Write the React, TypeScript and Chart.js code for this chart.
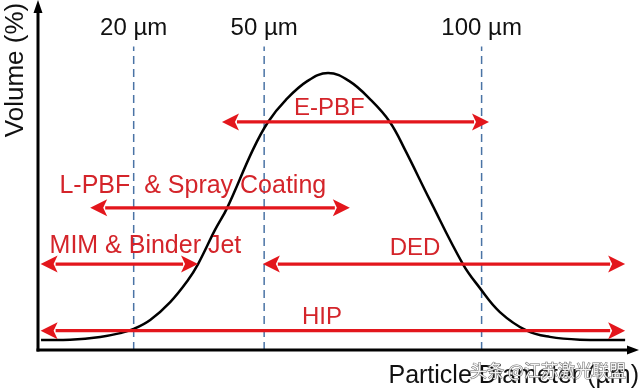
import React, { useEffect, useRef } from "react";
import { Chart, registerables } from "chart.js";

Chart.register(...registerables);

// Particle size distribution curve (x: particle diameter in µm, y: volume, arbitrary %)
const curveX = [-1.3, 5.4, 12.3, 16.9, 20, 23.8, 28.4, 32.5, 34.8, 38.7, 41.5, 47.4, 50.9, 55, 60, 64.7, 69.5, 74.5, 78.9, 82.4, 88.1, 95.7, 99.4, 104.2, 110.4, 115.7, 122.6, 133];
const curveY = [2.9, 3.0, 3.8, 4.9, 6.1, 8.7, 13.9, 20.3, 24.9, 34.8, 41.2, 58, 66.1, 72.5, 78.0, 80.3, 78.0, 72.5, 66.1, 58, 43.5, 24.9, 18.3, 11, 5.6, 3.8, 3.0, 2.9];

// Reference diameters (dashed lines)
const markerSizes = [20, 50, 100];
const markerLabels = ["20 µm", "50 µm", "100 µm"];
const markerTop = 88;
const markerLabelLevel = 91.3;

// Process ranges (double arrows)
const processNames = ["E-PBF", "L-PBF  & Spray Coating", "MIM & Binder Jet", "DED", "HIP"];
const processFrom = [40.3, 10.0, -1.4, 49.7, -1.4];
const processTo = [101.7, 69.7, 34.8, 133, 133];
const processLevel = [66.1, 41.2, 24.9, 24.9, 5.6];
const labelX = [65.0, 33.6, 22.7, 84.7, 63.3];
const labelY = [68.1, 45.5, 28.1, 27.5, 7.5];
const labelSize = [24, 25, 25, 24, 24];

const xTitle = "Particle Diameter (µm)";
const yTitle = "Volume (%)";
const watermark = "头条 @江苏激光联盟";

const FONT = "'Liberation Sans', Arial, Helvetica, sans-serif";
const RED = "#e3161c";
const RED_TEXT = "#d4242a";

const overlay = {
  id: "overlay",
  afterDraw(chart: any) {
    const { ctx, chartArea } = chart;
    const xs = chart.scales.x;
    const ys = chart.scales.y;
    const L = chartArea.left;
    const B = chartArea.bottom;
    ctx.save();

    // axes with arrowheads
    ctx.strokeStyle = "#000";
    ctx.fillStyle = "#000";
    ctx.lineWidth = 3;
    ctx.beginPath();
    ctx.moveTo(L, B + 1.5);
    ctx.lineTo(L, 12);
    ctx.stroke();
    ctx.beginPath();
    ctx.moveTo(L, 0);
    ctx.lineTo(L - 4.5, 13);
    ctx.lineTo(L + 4.5, 13);
    ctx.closePath();
    ctx.fill();
    ctx.beginPath();
    ctx.moveTo(L - 1.5, B);
    ctx.lineTo(chartArea.right - 8, B);
    ctx.stroke();
    ctx.beginPath();
    ctx.moveTo(chartArea.right + 3, B);
    ctx.lineTo(chartArea.right - 9, B - 4.5);
    ctx.lineTo(chartArea.right - 9, B + 4.5);
    ctx.closePath();
    ctx.fill();

    // marker labels
    ctx.fillStyle = "#111";
    ctx.font = `24px ${FONT}`;
    ctx.textAlign = "center";
    ctx.textBaseline = "alphabetic";
    markerSizes.forEach((m, i) => {
      ctx.fillText(markerLabels[i], xs.getPixelForValue(m), ys.getPixelForValue(markerLabelLevel));
    });

    // process arrows
    const head = 17;
    const half = 8.5;
    processNames.forEach((name, i) => {
      const x1 = xs.getPixelForValue(processFrom[i]);
      const x2 = xs.getPixelForValue(processTo[i]);
      const py = ys.getPixelForValue(processLevel[i]);
      ctx.strokeStyle = RED;
      ctx.fillStyle = RED;
      ctx.lineWidth = 3.2;
      ctx.beginPath();
      ctx.moveTo(x1 + head - 2, py);
      ctx.lineTo(x2 - head + 2, py);
      ctx.stroke();
      ctx.beginPath();
      ctx.moveTo(x1, py);
      ctx.lineTo(x1 + head, py - half);
      ctx.lineTo(x1 + head - 4, py);
      ctx.lineTo(x1 + head, py + half);
      ctx.closePath();
      ctx.fill();
      ctx.beginPath();
      ctx.moveTo(x2, py);
      ctx.lineTo(x2 - head, py - half);
      ctx.lineTo(x2 - head + 4, py);
      ctx.lineTo(x2 - head, py + half);
      ctx.closePath();
      ctx.fill();

      ctx.fillStyle = RED_TEXT;
      ctx.font = `${labelSize[i]}px ${FONT}`;
      ctx.textAlign = "center";
      ctx.fillText(name, xs.getPixelForValue(labelX[i]), ys.getPixelForValue(labelY[i]));
    });

    // axis titles
    ctx.fillStyle = "#111";
    ctx.font = `25px ${FONT}`;
    ctx.textAlign = "right";
    ctx.fillText(xTitle, chart.width - 1, B + 33);

    ctx.save();
    ctx.translate(L - 15, 70);
    ctx.rotate(-Math.PI / 2);
    ctx.textAlign = "center";
    ctx.font = `26px ${FONT}`;
    ctx.fillText(yTitle, 0, 0);
    ctx.restore();

    // watermark
    ctx.font = `17px 'Noto Sans CJK SC', sans-serif`;
    ctx.textAlign = "left";
    ctx.lineWidth = 1;
    ctx.strokeStyle = "rgba(80,80,80,0.85)";
    ctx.fillStyle = "rgba(255,255,255,0.9)";
    ctx.strokeText(watermark, 470, B + 27);
    ctx.fillText(watermark, 470, B + 27);

    ctx.restore();
  },
};

export default function App() {
  const ref = useRef<HTMLCanvasElement | null>(null);

  useEffect(() => {
    if (!ref.current) return;
    const curve = curveX.map((x, i) => ({ x, y: curveY[i] }));
    const dashed = markerSizes.map((m) => ({
      data: [
        { x: m, y: 0 },
        { x: m, y: markerTop },
      ],
      borderColor: "#4a73a5",
      borderWidth: 1.5,
      borderDash: [8, 5],
      pointRadius: 0,
      fill: false,
      order: 2,
    }));
    const chart = new Chart(ref.current, {
      type: "line",
      data: {
        datasets: [
          {
            data: curve,
            borderColor: "#000",
            borderWidth: 2.5,
            pointRadius: 0,
            fill: false,
            tension: 0.4,
            order: 1,
          },
          ...dashed,
        ] as any,
      },
      options: {
        responsive: false,
        animation: false,
        layout: { padding: { left: 38, right: 4, top: 5, bottom: 39 } },
        plugins: { legend: { display: false }, tooltip: { enabled: false } },
        scales: {
          x: { type: "linear", min: -2, max: 135.5, display: false },
          y: { type: "linear", min: 0, max: 100, display: false },
        },
      },
      plugins: [overlay],
    });
    return () => chart.destroy();
  }, []);

  return (
    <div style={{ position: "fixed", left: 0, top: 0, width: 640, height: 389, background: "#fff" }}>
      <canvas ref={ref} width={640} height={389} />
    </div>
  );
}
